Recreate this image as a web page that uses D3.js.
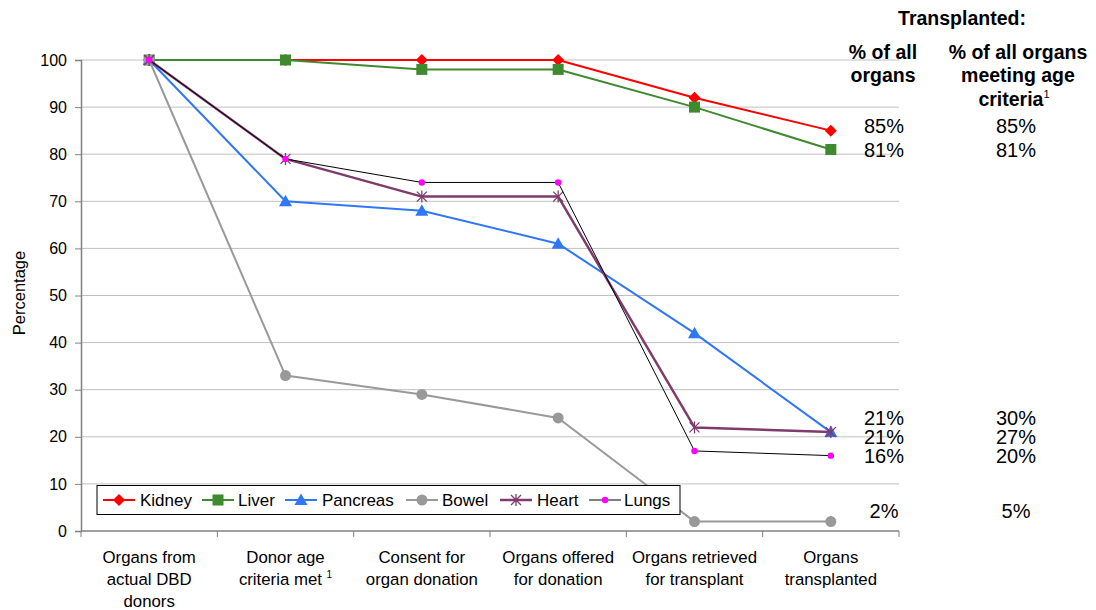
<!DOCTYPE html>
<html><head><meta charset="utf-8">
<script src="https://cdn.jsdelivr.net/npm/d3@7"></script>
<style>body{margin:0;background:#fff}svg{display:block;font-family:"Liberation Sans",Arial,sans-serif}</style>
</head><body><svg id="c" width="1096" height="610"></svg>
<script>
const categories = [["Organs from","actual DBD","donors"],["Donor age","criteria met¹"],["Consent for","organ donation"],["Organs offered","for donation"],["Organs retrieved","for transplant"],["Organs","transplanted"]];
const seriesNames = ["Kidney","Liver","Pancreas","Bowel","Heart","Lungs"];
const kidney   = [100,100,100,100,92,85];
const liver    = [100,100,98,98,90,81];
const pancreas = [100,70,68,61,42,21];
const bowel    = [100,33,29,24,2,2];
const heart    = [100,79,71,71,22,21];
const lungs    = [100,79,74,74,17,16];
const yTicks = [0,10,20,30,40,50,60,70,80,90,100];
const pctAll = ["85%","81%","21%","21%","16%","2%"];
const pctAge = ["85%","81%","30%","27%","20%","5%"];
const pctRowsBaseline = [133,157,425,444,463,518];

const svg = d3.select("#c");
const L=81,R=899,T=60,B=531;
const x = d3.scaleBand().domain(d3.range(6)).range([L,R]);
const y = d3.scaleLinear().domain([0,100]).range([B,T]);

// grid
svg.append("g").selectAll("line").data(yTicks.filter(d=>d>0)).join("line")
  .attr("x1",L).attr("x2",R).attr("y1",d=>y(d)).attr("y2",d=>y(d))
  .attr("stroke","#c0c0c0").attr("stroke-width",1);

// axes
const ya = svg.append("g").attr("transform",`translate(${L},0)`)
  .call(d3.axisLeft(y).tickValues(yTicks).tickSize(6).tickPadding(8));
ya.select(".domain").attr("stroke","#808080").attr("stroke-width",1.5);
ya.selectAll(".tick line").attr("stroke","#808080");
ya.selectAll("text").attr("font-size",16).attr("fill","#000").attr("font-family","Liberation Sans, Arial");

const xa = svg.append("g").attr("transform",`translate(0,${B})`);
xa.append("line").attr("x1",L).attr("x2",R).attr("stroke","#808080").attr("stroke-width",1.5);
const bounds = d3.range(7).map(i=> i<6 ? x(i) : x(5)+x.bandwidth());
xa.selectAll(".tk").data(bounds).join("line").attr("class","tk")
  .attr("x1",d=>d).attr("x2",d=>d).attr("y1",0).attr("y2",6).attr("stroke","#808080");
categories.forEach((lines,i)=>{
  const cxv = x(i)+x.bandwidth()/2;
  lines.forEach((ln,j)=>{
    const t = xa.append("text").attr("text-anchor","middle").attr("font-size",16.8)
      .attr("x",cxv).attr("y",32+j*22);
    if(ln.endsWith("¹")){ t.append("tspan").text(ln.slice(0,-1)+" "); t.append("tspan").attr("font-size",10).attr("dy",-7).text("1"); }
    else t.text(ln);
  });
});

svg.append("text").attr("transform","translate(25,293) rotate(-90)").attr("text-anchor","middle")
  .attr("font-size",16.5).text("Percentage");

// series
const styles = [
  {data:kidney,color:"#ff0000",w:2,marker:"diamond",mc:"#ff0000"},
  {data:liver,color:"#3f8a2f",w:2,marker:"square",mc:"#3f8a2f"},
  {data:pancreas,color:"#2f77f5",w:2,marker:"triangle",mc:"#2f77f5"},
  {data:bowel,color:"#999999",w:2,marker:"circle",mc:"#999999"},
  {data:heart,color:"#7e3b6c",w:2.5,marker:"star",mc:"#7e3b6c"},
  {data:lungs,color:"#000000",w:1,marker:"dot",mc:"#ff00ff"}
];
const cx = i=>x(i)+x.bandwidth()/2;
const line = d3.line().x((d,i)=>cx(i)).y(d=>y(d));
function drawMarker(g,type,c,px,py){
  if(type==="diamond") g.append("path").attr("d",`M${px},${py-6}L${px+6},${py}L${px},${py+6}L${px-6},${py}Z`).attr("fill",c);
  else if(type==="square") g.append("rect").attr("x",px-5.5).attr("y",py-5.5).attr("width",11).attr("height",11).attr("fill",c);
  else if(type==="triangle") g.append("path").attr("d",`M${px},${py-6.5}L${px+6.5},${py+5}L${px-6.5},${py+5}Z`).attr("fill",c);
  else if(type==="circle") g.append("circle").attr("cx",px).attr("cy",py).attr("r",5.5).attr("fill",c);
  else if(type==="dot") g.append("circle").attr("cx",px).attr("cy",py).attr("r",3.2).attr("fill",c);
  else if(type==="star"){
    const s=5;
    g.append("path").attr("d",`M${px-s},${py-s}L${px+s},${py+s}M${px-s},${py+s}L${px+s},${py-s}M${px},${py-s-1}L${px},${py+s+1}`)
      .attr("stroke",c).attr("stroke-width",1.3).attr("fill","none");
  }
}
styles.forEach(s=>{
  const g = svg.append("g");
  g.append("path").attr("d",line(s.data)).attr("fill","none").attr("stroke",s.color).attr("stroke-width",s.w).attr("stroke-linejoin","round");
  s.data.forEach((v,i)=>drawMarker(g,s.marker,s.mc,cx(i),y(v)));
});

// legend
const lg = svg.append("g");
lg.append("rect").attr("x",97).attr("y",485.5).attr("width",583).attr("height",29).attr("fill","#fff").attr("stroke","#000").attr("stroke-width",1);
const legX = [[103,140],[202,238],[285,322],[406,442],[500,537],[589,624]];
styles.forEach((s,i)=>{
  const [lx,tx]=legX[i]; const ly=500;
  lg.append("line").attr("x1",lx).attr("x2",lx+32).attr("y1",ly).attr("y2",ly).attr("stroke",s.color).attr("stroke-width",s.w);
  drawMarker(lg,s.marker,s.mc,lx+16,ly);
  lg.append("text").attr("x",tx).attr("y",ly+6).attr("font-size",17).text(seriesNames[i]);
});

// right annotations
const ann = svg.append("g").attr("font-size",20);
ann.append("text").attr("x",962).attr("y",25).attr("text-anchor","middle").attr("font-weight","bold").attr("font-size",19.5).text("Transplanted:");
const h1 = ann.append("text").attr("text-anchor","middle").attr("font-weight","bold").attr("font-size",19.5);
[["% of all",59],["organs",82]].forEach(([t,yy])=>h1.append("tspan").attr("x",883).attr("y",yy).text(t));
const h2 = ann.append("text").attr("text-anchor","middle").attr("font-weight","bold").attr("font-size",19.5);
[["% of all organs",59],["meeting age",82]].forEach(([t,yy])=>h2.append("tspan").attr("x",1018).attr("y",yy).text(t));
const h3 = ann.append("text").attr("x",1014).attr("y",106).attr("text-anchor","middle").attr("font-weight","bold").attr("font-size",19.5);
h3.append("tspan").text("criteria");
h3.append("tspan").attr("font-size",11).attr("font-weight","normal").attr("dy",-8).text("1");
ann.selectAll(".p1").data(pctAll).join("text").attr("class","p1").attr("x",884).attr("y",(d,i)=>pctRowsBaseline[i]).attr("text-anchor","middle").text(d=>d);
ann.selectAll(".p2").data(pctAge).join("text").attr("class","p2").attr("x",1016).attr("y",(d,i)=>pctRowsBaseline[i]).attr("text-anchor","middle").text(d=>d);
</script></body></html>
